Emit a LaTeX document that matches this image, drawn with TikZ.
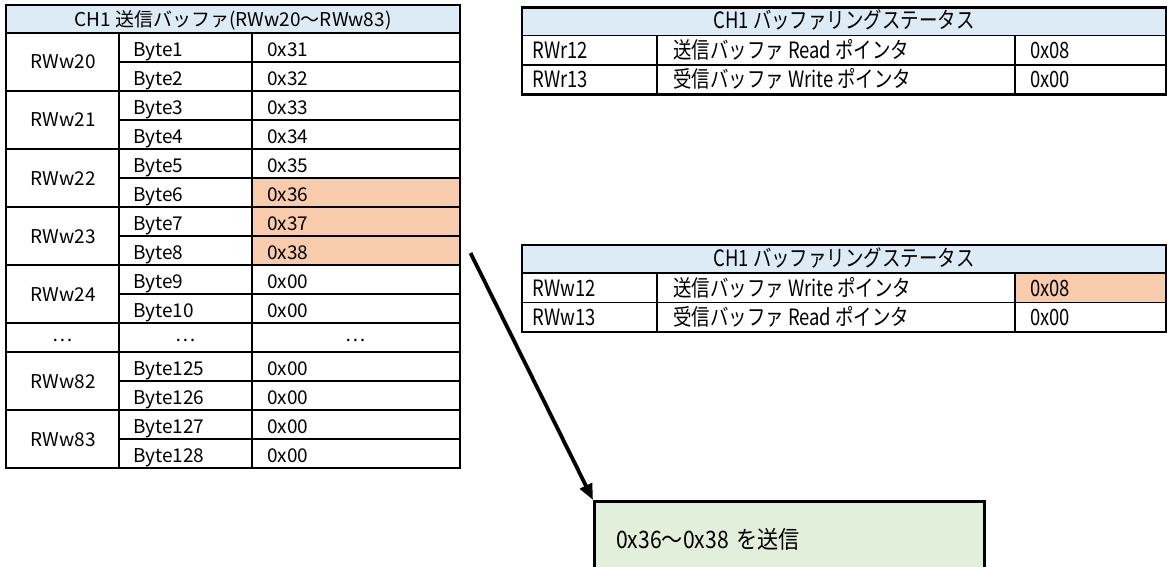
\documentclass[tikz,border=0pt]{standalone}
\usepackage{fontspec}
\setmainfont{Noto Sans CJK JP}
\newfontfamily\condfont[FakeStretch=0.82]{Noto Sans CJK JP}
\newfontfamily\notefont[FakeStretch=0.88]{Noto Sans CJK JP}
\usetikzlibrary{arrows.meta}
\definecolor{hdrblue}{HTML}{DDEBF7}
\definecolor{hiorange}{HTML}{F8CBAD}
\definecolor{notegreen}{HTML}{E2EFDA}
\begin{document}
\begin{tikzpicture}[x=1pt,y=-1pt,
  thinline/.style={line width=1.5pt},
  thickline/.style={line width=2.5pt},
  ltxt/.style={font=\fontsize{19}{19}\selectfont, inner sep=0pt, anchor=base},
  lwtxt/.style={ltxt, anchor=base west},
  rtxt/.style={font=\condfont\fontsize{22.5}{22.5}\selectfont, inner sep=0pt, anchor=base},
  rwtxt/.style={rtxt, anchor=base west},
  notebox/.style={draw, line width=2.5pt, fill=notegreen, anchor=north west,
    minimum height=84pt, text width=346pt, inner xsep=22pt, inner ysep=0pt,
    text height=17pt, text depth=7pt, align=left,
    font=\notefont\fontsize{24}{24}\selectfont},
]
\useasboundingbox (0,0) rectangle (1167,567);
% ---------------- left table ----------------
\fill[hdrblue] (6,5) rectangle (460,33);
\fill[hiorange] (252,178) rectangle (460,265);
\foreach \yy in {33,91,149,207,265,323,352,410}
  \draw[thinline] (6,\yy) -- (460,\yy);
\foreach \yy in {62,120,178,236,294,381,439}
  \draw[thinline] (119,\yy) -- (460,\yy);
\draw[thinline] (119,33) -- (119,468);
\draw[thinline] (252,33) -- (252,468);
\draw[thickline] (6,5) rectangle (460,468);
\node[ltxt] (lhead) at (233,27) {CH1 送信バッファ(RWw20～RWw83)};
\foreach \n [count=\i from 0] in {RWw20,RWw21,RWw22,RWw23,RWw24}
  \node[ltxt] (lg\i) at (63,{33+58*\i+36}) {\n};
\node[ltxt] (lg82) at (63,388) {RWw82};
\node[ltxt] (lg83) at (63,446) {RWw83};
\foreach \v [count=\i from 0] in {0x31,0x32,0x33,0x34,0x35,0x36,0x37,0x38,0x00,0x00}{
  \pgfmathtruncatemacro{\b}{\i+1}
  \node[lwtxt] (lb\b) at (133,{33+29*\i+23.5}) {Byte\b};
  \node[lwtxt] (lv\b) at (267,{33+29*\i+23.5}) {\v};
}
\node[ltxt] (ld1) at (62.5,341) {…};
\node[ltxt] (ld2) at (185.5,341) {…};
\node[ltxt] (ld3) at (356,341) {…};
\foreach \b [count=\i from 11] in {125,126,127,128}{
  \node[lwtxt] (lb\b) at (133,{33+29*\i+23.5}) {Byte\b};
  \node[lwtxt] (lv\b) at (267,{33+29*\i+23.5}) {0x00};
}
% ---------------- right table 1 ----------------
\fill[hdrblue] (522,7.5) rectangle (1166,35.5);
\draw[thinline] (522,35.5) -- (1166,35.5);
\draw[thinline] (522,65) -- (1166,65);
\draw[thinline] (657,35.5) -- (657,94.5);
\draw[thinline] (1015,35.5) -- (1015,94.5);
\draw[thickline] (522,7.5) rectangle (1166,94.5);
\node[rtxt] (rahead) at (844,29) {CH1 バッファリングステータス};
\node[rwtxt] (ra1a) at (532,58.5) {RWr12};
\node[rwtxt] (ra1b) at (673,58.5) {送信バッファ Read ポインタ};
\node[rwtxt] (ra1c) at (1030,58.5) {0x08};
\node[rwtxt] (ra2a) at (532,88) {RWr13};
\node[rwtxt] (ra2b) at (673,88) {受信バッファ Write ポインタ};
\node[rwtxt] (ra2c) at (1030,88) {0x00};
% ---------------- right table 2 ----------------
\fill[hdrblue] (522,245) rectangle (1166,273);
\fill[hiorange] (1015,273) rectangle (1166,302.5);
\draw[thinline] (522,273) -- (1166,273);
\draw[thinline] (522,302.5) -- (1166,302.5);
\draw[thinline] (657,273) -- (657,332);
\draw[thinline] (1015,273) -- (1015,332);
\draw[thickline] (522,245) rectangle (1166,332);
\node[rtxt] (rbhead) at (844,266.5) {CH1 バッファリングステータス};
\node[rwtxt] (rb1a) at (532,296) {RWw12};
\node[rwtxt] (rb1b) at (673,296) {送信バッファ Write ポインタ};
\node[rwtxt] (rb1c) at (1030,296) {0x08};
\node[rwtxt] (rb2a) at (532,325.5) {RWw13};
\node[rwtxt] (rb2b) at (673,325.5) {受信バッファ Read ポインタ};
\node[rwtxt] (rb2c) at (1030,325.5) {0x00};
% ---------------- note + arrow ----------------
\node[notebox] (note) at (593,500) {0x36～0x38 を送信};
\coordinate (astart) at (470.5,253);
\draw[line width=3.8pt, -{Triangle[length=16pt,width=13pt]}] (astart) -- (note.north west);
\end{tikzpicture}
\end{document}
